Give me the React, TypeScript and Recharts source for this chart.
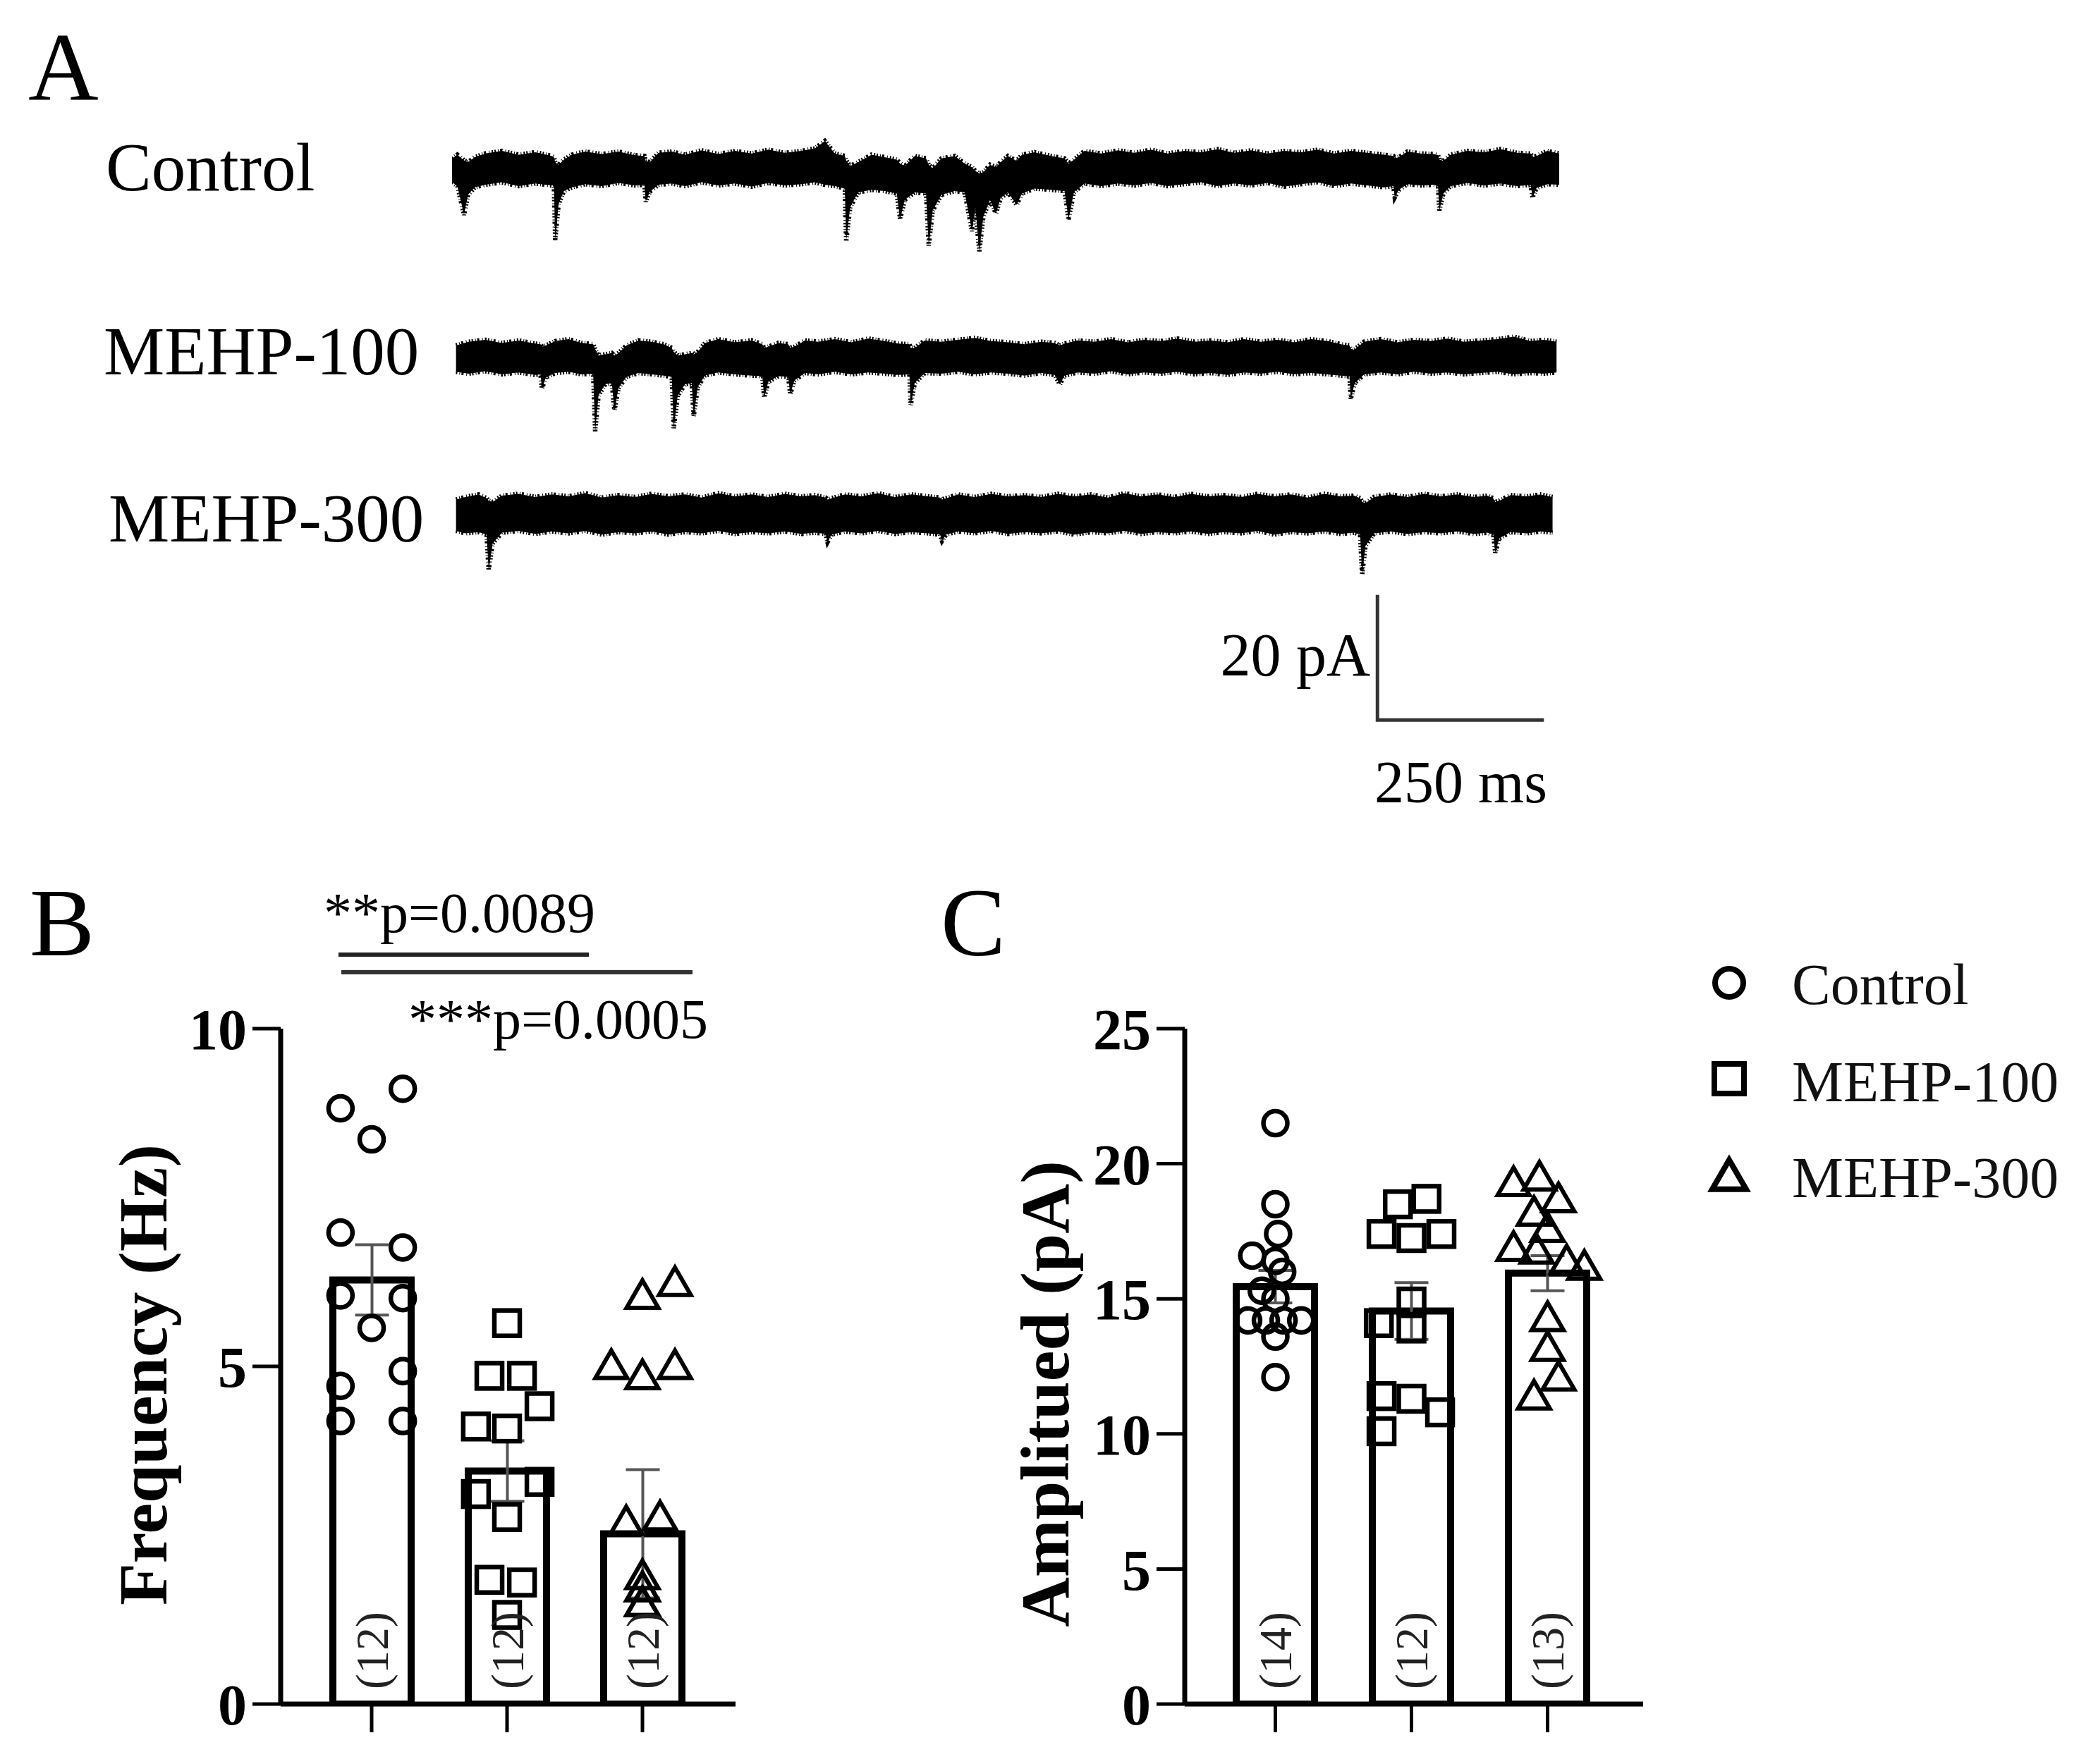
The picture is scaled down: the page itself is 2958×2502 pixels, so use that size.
import React from 'react';
import {
  ComposedChart,
  AreaChart,
  Area,
  LineChart,
  Line,
  Bar,
  Scatter,
  XAxis,
  YAxis,
  ErrorBar,
  LabelList,
} from 'recharts';

const FONT = "'Liberation Serif', 'Times New Roman', serif";

// ---------- Panel A: traces (time ms, low pA, high pA) ----------
const controlTrace: number[][] = [
  [0, -2.0, 1.8], [8, -2.6, 2.4], [18, -7.2, 1.5], [24, -4.0, 1.2], [34, -2.8, 2.0],
  [50, -2.4, 2.6], [75, -2.0, 3.0], [100, -2.6, 2.4], [125, -2.2, 2.8], [150, -2.5, 2.2],
  [153, -2.4, 2.0], [155, -11.2, 1.2], [160, -5.5, 0.8], [168, -3.4, 1.6], [180, -2.8, 2.4],
  [200, -2.3, 2.9], [225, -2.6, 2.5], [250, -2.1, 2.9], [275, -2.5, 2.3], [289, -2.4, 2.2],
  [291, -5.1, 1.4], [297, -3.5, 1.2], [310, -2.4, 2.7], [330, -2.2, 2.9], [350, -2.6, 2.4],
  [375, -2.0, 3.1], [400, -2.5, 2.5], [425, -2.2, 3.0], [450, -2.7, 2.6], [475, -2.1, 3.2],
  [500, -2.5, 2.7], [525, -2.3, 3.0], [545, -2.0, 3.4], [560, -2.4, 4.6], [575, -2.6, 2.6],
  [590, -3.0, 2.2], [592, -11.4, 1.5], [598, -6.0, 0.6], [610, -3.6, 1.2], [630, -3.2, 2.4],
  [650, -3.4, 2.0], [668, -3.8, 1.6], [673, -7.9, 1.0], [680, -4.8, 0.6], [695, -3.6, 2.2],
  [712, -3.8, 1.8], [716, -12.1, 0.8], [722, -6.5, 0.2], [735, -4.0, 1.8], [755, -3.4, 2.2],
  [770, -3.6, 1.0], [781, -9.8, 0.4], [786, -6.0, -0.2], [792, -13.0, -0.6], [798, -7.5, -0.4],
  [808, -4.8, 0.8], [817, -7.0, 0.4], [824, -4.5, 1.2], [835, -3.6, 2.2], [848, -5.6, 1.4],
  [856, -3.8, 2.4], [875, -3.0, 2.8], [900, -3.2, 2.2], [920, -3.4, 1.8], [926, -7.9, 1.0],
  [934, -3.6, 1.6], [950, -2.2, 3.0], [975, -2.6, 2.6], [1000, -2.2, 3.1], [1025, -2.5, 2.7],
  [1050, -2.1, 3.2], [1075, -2.6, 2.6], [1100, -2.3, 3.0], [1125, -2.0, 2.8], [1150, -2.6, 3.3],
  [1175, -2.2, 2.7], [1200, -2.5, 3.1], [1225, -2.1, 2.6], [1250, -2.7, 3.0], [1275, -2.3, 2.8],
  [1300, -2.0, 3.2], [1325, -2.6, 2.6], [1350, -2.2, 3.0], [1375, -2.5, 2.7], [1400, -2.8, 2.4],
  [1414, -2.6, 2.2], [1416, -4.4, 1.8], [1422, -3.2, 2.0], [1435, -2.3, 2.9], [1455, -2.5, 2.6],
  [1475, -2.4, 2.5], [1481, -2.6, 2.3], [1483, -6.5, 1.6], [1489, -3.8, 1.4], [1500, -2.6, 2.4],
  [1525, -2.1, 3.0], [1550, -2.5, 2.8], [1575, -2.2, 3.3], [1600, -2.6, 2.7], [1620, -2.4, 2.6],
  [1623, -4.4, 2.0], [1629, -2.9, 2.2], [1645, -2.3, 3.0], [1663, -2.4, 2.6],
];

const mehp100Trace: number[][] = [
  [6, -2.2, 2.0], [25, -2.5, 2.6], [50, -2.1, 2.9], [75, -2.6, 2.4], [100, -2.3, 2.8],
  [125, -2.7, 2.3], [133, -2.6, 2.2], [135, -4.9, 1.8], [141, -3.1, 2.0], [155, -2.4, 2.7],
  [175, -2.2, 3.0], [195, -2.6, 2.4], [212, -2.5, 2.2], [215, -11.7, 1.4], [220, -6.0, 0.4],
  [230, -4.2, 0.6], [240, -4.0, 0.8], [244, -8.4, 0.4], [250, -4.8, 0.8], [262, -3.0, 2.0],
  [280, -2.4, 2.8], [300, -2.6, 2.6], [318, -2.8, 2.2], [330, -3.0, 1.6], [333, -11.2, 1.0],
  [339, -6.0, 0.4], [350, -4.2, 0.6], [360, -4.0, 0.8], [363, -9.3, 0.6], [369, -4.6, 1.0],
  [380, -2.8, 2.4], [400, -2.3, 3.0], [425, -2.6, 2.5], [450, -2.8, 2.8], [466, -2.9, 2.2],
  [469, -6.3, 1.6], [475, -3.8, 1.8], [490, -2.9, 2.4], [505, -3.0, 2.2], [508, -5.8, 1.6],
  [514, -3.6, 1.8], [530, -2.4, 2.8], [550, -2.6, 2.6], [575, -2.2, 3.0], [600, -2.6, 2.5],
  [625, -2.3, 3.1], [650, -2.5, 2.7], [670, -2.7, 2.3], [687, -2.6, 2.2], [689, -7.5, 1.6],
  [695, -4.0, 1.6], [710, -2.4, 2.8], [735, -2.5, 2.6], [760, -2.2, 2.9], [785, -2.6, 3.2],
  [810, -2.3, 2.7], [835, -2.5, 2.5], [860, -2.8, 2.2], [885, -2.4, 2.6], [905, -2.7, 2.4],
  [913, -4.2, 2.0], [920, -2.8, 2.3], [940, -2.3, 2.8], [965, -2.5, 2.6], [990, -2.1, 3.0],
  [1015, -2.6, 2.5], [1040, -2.3, 2.9], [1065, -2.5, 2.7], [1090, -2.2, 3.1], [1115, -2.6, 2.6],
  [1140, -2.4, 2.8], [1165, -2.7, 2.5], [1190, -2.3, 3.0], [1215, -2.5, 2.6], [1240, -2.2, 2.9],
  [1265, -2.6, 2.5], [1290, -2.4, 3.0], [1315, -2.6, 2.7], [1335, -2.8, 2.2], [1348, -2.9, 2.0],
  [1350, -6.5, 1.2], [1356, -4.0, 1.4], [1370, -2.6, 2.6], [1395, -2.3, 3.0], [1420, -2.6, 2.5],
  [1445, -2.2, 2.9], [1470, -2.5, 2.7], [1495, -2.3, 3.1], [1520, -2.6, 2.6], [1545, -2.4, 2.8],
  [1570, -2.2, 3.0], [1595, -2.6, 3.4], [1620, -2.4, 2.7], [1640, -2.5, 2.9], [1659, -2.3, 2.6],
];

const mehp300Trace: number[][] = [
  [6, -2.6, 2.4], [20, -3.0, 2.8], [40, -2.8, 3.2], [52, -3.2, 2.6], [55, -8.9, 2.2],
  [61, -4.6, 2.0], [75, -2.9, 3.0], [100, -2.6, 3.3], [125, -3.1, 2.8], [150, -2.7, 3.2],
  [175, -3.0, 2.9], [200, -2.6, 3.4], [225, -3.2, 2.7], [250, -2.8, 3.1], [275, -3.0, 2.8],
  [300, -2.7, 3.3], [325, -3.2, 2.9], [350, -2.8, 3.2], [375, -3.0, 2.7], [400, -2.6, 3.4],
  [425, -3.1, 2.9], [450, -2.8, 3.2], [475, -3.0, 2.8], [500, -2.7, 3.3], [525, -3.1, 2.9],
  [545, -2.9, 3.1], [561, -3.1, 2.7], [564, -4.4, 2.4], [570, -3.2, 2.6], [590, -2.7, 3.2],
  [615, -3.0, 2.9], [640, -2.6, 3.4], [665, -3.1, 2.8], [690, -2.8, 3.2], [715, -3.0, 2.9],
  [733, -3.2, 2.7], [736, -4.2, 2.4], [742, -3.2, 2.6], [760, -2.7, 3.2], [785, -3.0, 2.8],
  [810, -2.6, 3.3], [835, -3.1, 2.9], [860, -2.8, 3.1], [885, -3.0, 2.8], [910, -2.7, 3.3],
  [935, -3.2, 2.9], [960, -2.8, 3.2], [985, -3.0, 2.7], [1010, -2.6, 3.4], [1035, -3.1, 2.9],
  [1060, -2.8, 3.2], [1085, -3.0, 2.8], [1110, -2.7, 3.3], [1135, -3.1, 2.9], [1160, -2.8, 3.1],
  [1185, -3.0, 2.8], [1210, -2.6, 3.3], [1235, -3.2, 2.9], [1260, -2.8, 3.2], [1285, -3.0, 2.7],
  [1310, -2.7, 3.3], [1335, -3.1, 2.9], [1355, -2.9, 3.0], [1364, -3.2, 2.6], [1367, -9.6, 2.0],
  [1372, -5.0, 1.8], [1385, -3.0, 2.8], [1410, -2.7, 3.2], [1435, -3.1, 2.8], [1460, -2.8, 3.3],
  [1485, -3.0, 2.9], [1510, -2.7, 3.2], [1535, -3.1, 2.8], [1555, -2.9, 3.0], [1564, -3.2, 2.6],
  [1567, -6.1, 2.0], [1573, -3.8, 2.2], [1590, -2.8, 3.1], [1615, -3.0, 2.9], [1635, -2.7, 3.2],
  [1653, -2.9, 2.8],
];

const traceNames = ['Control', 'MEHP-100', 'MEHP-300'];
const scaleBarT = [1390, 1390, 1640];
const scaleBarPA = [20, 0, 0];

// ---------- Panels B & C ----------
const groups = ['Control', 'MEHP-100', 'MEHP-300'];

const freqMean = [6.28, 3.45, 2.52];
const freqSem = [0.52, 0.45, 0.95];
const freqN = ['(12)', '(12)', '(12)'];
const freqTicks = [0, 5, 10];

const ampMean = [15.45, 14.55, 15.95];
const ampSem = [0.6, 1.05, 0.65];
const ampN = ['(14)', '(12)', '(13)'];
const ampTicks = [0, 5, 10, 15, 20, 25];

// [jitter within category, value]
const freqControl = [
  [-0.23, 8.82], [0.23, 9.11], [0, 8.36], [-0.23, 6.98], [0.23, 6.76], [-0.23, 6.05],
  [0.23, 6.01], [0, 5.57], [-0.23, 4.71], [0.23, 4.93], [-0.23, 4.19], [0.23, 4.19],
];
const freqM100 = [
  [0, 5.64], [-0.13, 4.86], [0.11, 4.86], [0.24, 4.41], [-0.23, 4.11], [0, 4.08],
  [0.24, 3.29], [-0.23, 3.11], [0, 2.77], [-0.13, 1.84], [0.11, 1.8], [0, 1.32],
];
const freqM300 = [
  [0, 6.05], [0.24, 6.24], [-0.23, 5.01], [0, 4.86], [0.24, 5.01], [-0.12, 2.7],
  [0.13, 2.77], [0, 1.9], [0, 1.72], [0, 1.72], [0, 1.5], [0, 1.5],
];

const ampControl = [
  [0, 21.5], [0, 18.5], [0.02, 17.4], [-0.17, 16.6], [0, 16.4], [0.05, 16.0], [-0.1, 15.3],
  [0, 15.0], [-0.2, 14.2], [-0.07, 14.2], [0.06, 14.2], [0.19, 14.2], [0, 13.6], [0, 12.1],
];
const ampM100 = [
  [-0.1, 18.5], [0.11, 18.7], [-0.22, 17.4], [0, 17.25], [0.22, 17.4], [0, 14.9],
  [-0.24, 14.1], [0, 13.9], [-0.22, 11.4], [0, 11.3], [-0.22, 10.1], [0.21, 10.8],
];
const ampM300 = [
  [-0.25, 19.3], [-0.06, 19.5], [0.08, 18.7], [-0.1, 18.2], [0, 17.6], [-0.25, 16.9],
  [-0.08, 16.8], [0.14, 16.4], [0.27, 16.2], [0, 14.3], [0, 13.2], [0.08, 12.1], [-0.1, 11.4],
];

// ---------- marker shapes ----------
const SW = 6.5;
const circleShape = (p: any) => (
  <circle cx={p.cx} cy={p.cy} r={17} fill="none" stroke="#000" strokeWidth={SW} />
);
const squareShape = (p: any) => (
  <rect x={p.cx - 18} y={p.cy - 18} width={36} height={36} fill="none" stroke="#000" strokeWidth={SW} />
);
const triPath = (cx: number, cy: number, s: number) => {
  const h = s * 0.866;
  return `M${cx},${cy - h * 0.55} L${cx + s / 2},${cy + h * 0.45} L${cx - s / 2},${cy + h * 0.45} Z`;
};
const triangleShape = (p: any) => (
  <path d={triPath(p.cx, p.cy, 45)} fill="none" stroke="#000" strokeWidth={6} strokeLinejoin="miter" />
);
const shapes = [circleShape, squareShape, triangleShape];

const renderN = (props: any) => {
  const vb = props.viewBox || {};
  const x = props.x ?? vb.x;
  const y = props.y ?? vb.y;
  const w = props.width ?? vb.width;
  const h = props.height ?? vb.height;
  const cx = x + w / 2;
  const cy = y + h - 76;
  return (
    <text
      x={cx}
      y={cy}
      transform={`rotate(-90 ${cx} ${cy})`}
      textAnchor="middle"
      dominantBaseline="central"
      fontFamily={FONT}
      fontSize={66}
      fill="#222"
    >
      {props.value}
    </text>
  );
};

const emptyTick = () => <g />;

function TraceChart({ data, top }: { data: number[][]; top: number }) {
  const rows = data.map(([t, lo, hi]) => ({ t, v: [lo, hi] }));
  return (
    <div style={{ position: 'absolute', left: 641, top }}>
      <AreaChart width={1570} height={200} data={rows} margin={{ top: 0, right: 0, bottom: 0, left: 0 }}>
        <XAxis dataKey="t" type="number" domain={[0, 1663]} hide allowDataOverflow />
        <YAxis type="number" domain={[-16, 6.5]} hide allowDataOverflow />
        <Area
          dataKey="v"
          type="linear"
          stroke="#000"
          strokeWidth={6.5}
          strokeDasharray="2 3 1 2 3 4 1 3 2 2"
          fill="#000"
          fillOpacity={1}
          dot={false}
          activeDot={false}
          isAnimationActive={false}
        />
      </AreaChart>
    </div>
  );
}

function ScaleBarChart() {
  const rows = scaleBarT.map((t, i) => ({ t, v: scaleBarPA[i] }));
  return (
    <div style={{ position: 'absolute', left: 641, top: 817 }}>
      <LineChart width={1570} height={222} data={rows} margin={{ top: 0, right: 0, bottom: 0, left: 0 }}>
        <XAxis dataKey="t" type="number" domain={[0, 1663]} hide allowDataOverflow />
        <YAxis type="number" domain={[-2, 23]} hide allowDataOverflow />
        <Line
          dataKey="v"
          type="linear"
          stroke="#333"
          strokeWidth={5}
          dot={false}
          activeDot={false}
          isAnimationActive={false}
        />
      </LineChart>
    </div>
  );
}

function BarPanel(props: {
  left: number;
  width: number;
  yWidth: number;
  rightMargin: number;
  domain: number[];
  ticks: number[];
  means: number[];
  sems: number[];
  ns: string[];
  points: number[][][];
  pad: { left: number; right: number };
  numDomain: number[];
}) {
  const data = groups.map((g, i) => ({ name: g, mean: props.means[i], sem: props.sems[i], n: props.ns[i] }));
  const series = props.points.map((pts, gi) => pts.map(([j, y]) => ({ x: gi + j, y })));
  return (
    <div style={{ position: 'absolute', left: props.left, top: 1300 }}>
      <ComposedChart
        width={props.width}
        height={1200}
        data={data}
        margin={{ top: 159, right: props.rightMargin, bottom: 0, left: 0 }}
      >
        <XAxis
          xAxisId="cat"
          dataKey="name"
          type="category"
          padding={props.pad}
          height={83}
          tickSize={40}
          tick={emptyTick}
          interval={0}
          tickLine={{ stroke: '#000', strokeWidth: 5 }}
          axisLine={{ stroke: '#000', strokeWidth: 7 }}
        />
        <XAxis xAxisId="num" dataKey="x" type="number" domain={props.numDomain} hide allowDataOverflow />
        <YAxis
          type="number"
          domain={props.domain}
          ticks={props.ticks}
          interval={0}
          width={props.yWidth}
          tickSize={40}
          tickMargin={8}
          allowDataOverflow
          tick={{ fontSize: 82, fontWeight: 700, fontFamily: FONT, fill: '#000' }}
          tickLine={{ stroke: '#000', strokeWidth: 5 }}
          axisLine={{ stroke: '#000', strokeWidth: 7 }}
        />
        <Bar
          xAxisId="cat"
          dataKey="mean"
          barSize={111}
          fill="#fff"
          stroke="#000"
          strokeWidth={10}
          isAnimationActive={false}
        >
          <ErrorBar dataKey="sem" width={24} stroke="#555" strokeWidth={4} direction="y" />
          <LabelList dataKey="n" content={renderN} />
        </Bar>
        {series.map((s, i) => (
          <Scatter
            key={i}
            xAxisId="num"
            data={s}
            dataKey="y"
            shape={shapes[i]}
            isAnimationActive={false}
          />
        ))}
      </ComposedChart>
    </div>
  );
}

export default function App() {
  const legendY = [1394, 1530, 1668];
  const legendBase = [1424, 1562, 1698];
  return (
    <div
      style={{
        position: 'absolute',
        left: 0,
        top: 0,
        width: 2958,
        height: 2502,
        background: '#fff',
        overflow: 'hidden',
      }}
    >
      <TraceChart data={controlTrace} top={183} />
      <TraceChart data={mehp100Trace} top={450} />
      <TraceChart data={mehp300Trace} top={672} />
      <ScaleBarChart />

      <BarPanel
        left={0}
        width={1100}
        yWidth={398}
        rightMargin={57}
        domain={[0, 10]}
        ticks={freqTicks}
        means={freqMean}
        sems={freqSem}
        ns={freqN}
        points={[freqControl, freqM100, freqM300]}
        pad={{ left: 33, right: 36 }}
        numDomain={[-0.672, 2.6875]}
      />
      <BarPanel
        left={1300}
        width={1658}
        yWidth={380}
        rightMargin={628}
        domain={[0, 25]}
        ticks={ampTicks}
        means={ampMean}
        sems={ampSem}
        ns={ampN}
        points={[ampControl, ampM100, ampM300]}
        pad={{ left: 32, right: 39 }}
        numDomain={[-0.666, 2.702]}
      />

      <svg
        width={2958}
        height={2502}
        style={{ position: 'absolute', left: 0, top: 0, pointerEvents: 'none' }}
        fontFamily={FONT}
      >
        {/* panel letters */}
        <text x={40} y={141} fontSize={138} fill="#000">A</text>
        <text x={42} y={1355} fontSize={138} fill="#000">B</text>
        <text x={1334} y={1355} fontSize={138} fill="#000">C</text>

        {/* trace labels */}
        <text x={150} y={270} fontSize={97} fill="#000">{traceNames[0]}</text>
        <text x={147} y={531} fontSize={97} fill="#000">{traceNames[1]}</text>
        <text x={154} y={768} fontSize={97} fill="#000">{traceNames[2]}</text>

        {/* scale bar labels */}
        <text x={1943} y={958} fontSize={86} textAnchor="end" fill="#000">20 pA</text>
        <text x={1949} y={1138} fontSize={84} fill="#000">250 ms</text>

        {/* significance */}
        <text x={459} y={1322} fontSize={80} fill="#000">**p=0.0089</text>
        <line x1={480} y1={1354} x2={835} y2={1354} stroke="#222" strokeWidth={6} />
        <line x1={484} y1={1379} x2={982} y2={1379} stroke="#333" strokeWidth={6} />
        <text x={579} y={1473} fontSize={80} fill="#000">***p=0.0005</text>

        {/* axis titles */}
        <text
          x={203}
          y={1950}
          transform="rotate(-90 203 1950)"
          textAnchor="middle"
          dominantBaseline="central"
          fontSize={98}
          fontWeight={700}
          fill="#000"
        >
          Frequency (Hz)
        </text>
        <text
          x={1482}
          y={1977}
          transform="rotate(-90 1482 1977)"
          textAnchor="middle"
          dominantBaseline="central"
          fontSize={98}
          fontWeight={700}
          fill="#000"
        >
          Amplitued (pA)
        </text>

        {/* legend */}
        <circle cx={2452} cy={legendY[0]} r={20} fill="none" stroke="#000" strokeWidth={8} />
        <rect x={2452 - 21} y={legendY[1] - 21} width={42} height={42} fill="none" stroke="#000" strokeWidth={8} />
        <path d={triPath(2452, legendY[2], 48)} fill="none" stroke="#000" strokeWidth={8} />
        {groups.map((g, i) => (
          <text key={g} x={2541} y={legendBase[i]} fontSize={82} fill="#111">
            {g}
          </text>
        ))}
      </svg>
    </div>
  );
}
